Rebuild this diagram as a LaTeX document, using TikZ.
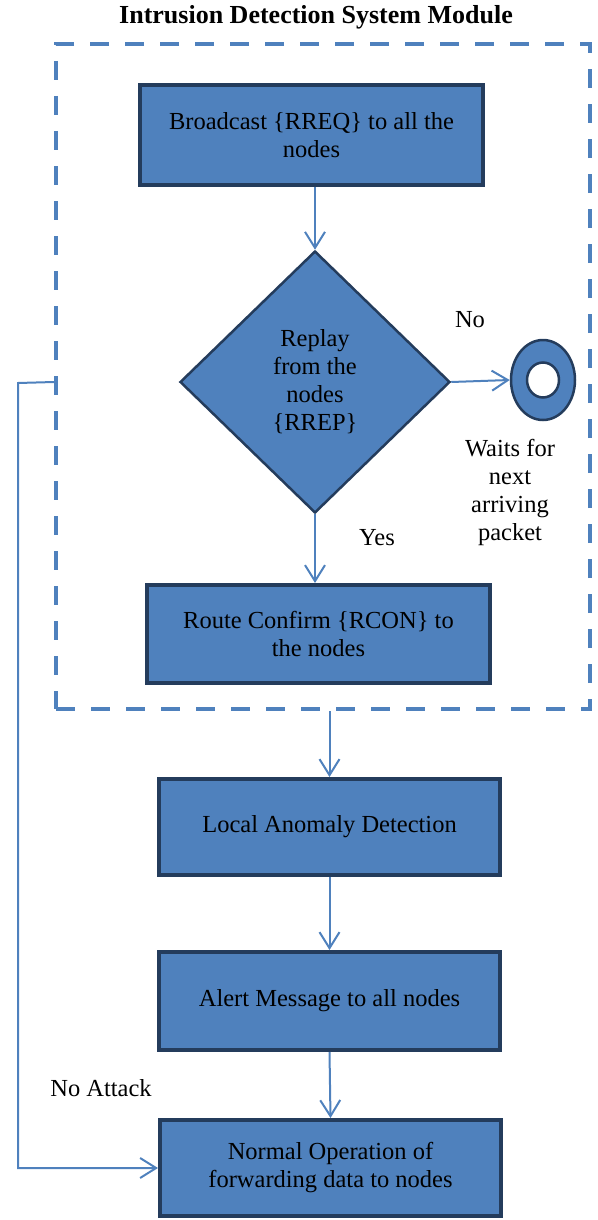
\documentclass[tikz,border=0pt]{standalone}
\usepackage{fontspec}
\setmainfont{Liberation Serif}
\usetikzlibrary{arrows.meta,shapes.geometric}
\definecolor{accblue}{RGB}{79,129,189}
\definecolor{darkedge}{RGB}{36,60,92}
\begin{document}
\begin{tikzpicture}[x=1pt,y=-1pt,
  txt/.style={font=\fontsize{24.5}{28}\selectfont, align=center, inner sep=0pt, text=black},
  procbox/.style={txt, shape=rectangle, draw=darkedge, fill=accblue, line width=4pt},
  conn/.style={draw=accblue, line width=2pt, -{Straight Barb[length=16pt,width=20pt]}},
  plainline/.style={draw=accblue, line width=2pt},
]
\useasboundingbox (0,0) rectangle (597,1220);

\node[font=\fontsize{26}{30}\selectfont\bfseries, inner sep=0pt] (title) at (316,17) {Intrusion Detection System Module};

\node[draw=accblue, line width=4pt, dash pattern=on 19pt off 16pt, minimum width=534pt, minimum height=665pt, inner sep=0pt] (ids) at (323,376.5) {};

\node[procbox, minimum width=343pt, minimum height=100pt] (b1) at (311.5,135) {Broadcast \{RREQ\} to all the\\nodes};

\node[txt, shape=diamond, draw=darkedge, fill=accblue, line width=2.5pt, minimum width=270pt, minimum height=262pt] (dia) at (315,382) {Replay\\from the\\nodes\\\{RREP\}};

\node[shape=ellipse, draw=darkedge, fill=accblue, line width=2.5pt, minimum width=64pt, minimum height=80pt, inner sep=0pt] (ring) at (543,380) {};
\node[shape=ellipse, draw=darkedge, fill=white, line width=2.5pt, minimum width=32pt, minimum height=35pt, inner sep=0pt] (hole) at (543,380) {};

\node[txt] (nolbl) at (470,320) {No};
\node[txt] (yeslbl) at (377,538) {Yes};
\node[txt] (waits) at (510,492) {Waits for\\next\\arriving\\packet};

\node[procbox, minimum width=343pt, minimum height=98pt] (b3) at (318.5,634) {Route Confirm \{RCON\} to\\the nodes};

\node[procbox, minimum width=341pt, minimum height=96pt] (b4) at (329.5,827) {Local Anomaly Detection};
\node[procbox, minimum width=341pt, minimum height=98pt] (b5) at (329.5,1001) {Alert Message to all nodes};
\node[procbox, minimum width=341pt, minimum height=96pt] (b6) at (330.5,1168) {Normal Operation of\\forwarding data to nodes};

\node[txt] (noattack) at (101,1088) {No Attack};

\draw[conn] (b1.south -| dia.north) -- (dia.north);
\draw[conn] (dia.east) -- (ring.west);
\draw[conn] (dia.south) -- (dia.south |- b3.north);
\draw[conn] (ids.south -| b4.north) -- (b4.north);
\draw[conn] (b4.south) -- (b5.north);
\draw[conn] (b5.south) -- (b6.north);
\coordinate (loopstart) at (ids.west |- dia.center);
\coordinate (loopcorner) at (18,383);
\draw[conn] (loopstart) -- (loopcorner) |- (b6.west);
\end{tikzpicture}
\end{document}
